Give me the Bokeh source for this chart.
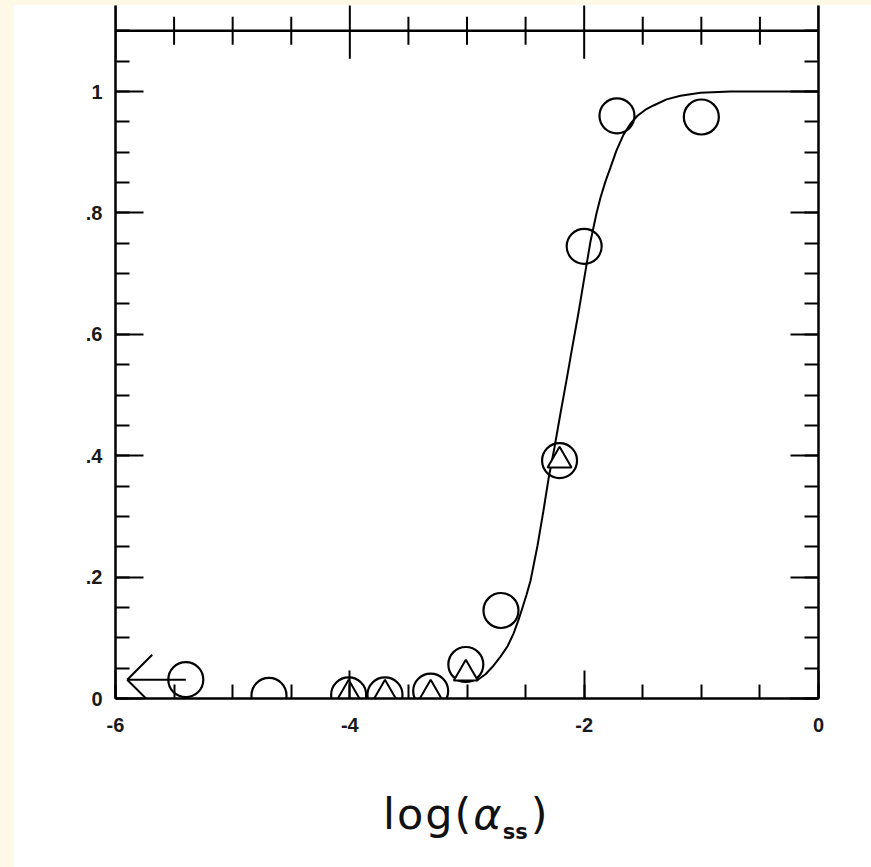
from bokeh.plotting import figure
from bokeh.models import Range1d, LinearAxis, FixedTicker, Span, Spacer, Div
from bokeh.layouts import row, column
from bokeh.embed import file_html
from bokeh.resources import INLINE

# ---- data: fraction vs log(alpha_ss) ----
circle_x = [-5.40, -4.69, -4.01, -3.70, -3.31, -3.01, -2.71, -2.21, -2.00, -1.72, -1.00]
circle_y = [0.031, 0.005, 0.006, 0.006, 0.012, 0.056, 0.145, 0.392, 0.745, 0.960, 0.958]

triangle_x = [-4.01, -3.70, -3.31, -3.01, -2.21]
triangle_y = [0.008, 0.008, 0.008, 0.041, 0.392]

# left-pointing limit arrow on the lowest point
limit_from_x = -5.40
limit_to_x = -5.90
limit_y = 0.031

# fitted curve
fit_x = [-2.913, -2.842, -2.774, -2.714, -2.654, -2.603, -2.561, -2.526, -2.492,
         -2.458, -2.398, -2.347, -2.304, -2.253, -2.202, -2.151, -2.100, -2.048,
         -1.997, -1.946, -1.895, -1.861, -1.818, -1.775, -1.724, -1.664, -1.605,
         -1.545, -1.477, -1.408, -1.297, -1.178, -1.007, -0.751, 0.000]
fit_y = [0.030, 0.040, 0.054, 0.069, 0.086, 0.107, 0.129, 0.150, 0.171,
         0.194, 0.252, 0.310, 0.362, 0.414, 0.470, 0.524, 0.580, 0.636,
         0.695, 0.753, 0.799, 0.825, 0.852, 0.875, 0.903, 0.929, 0.947,
         0.960, 0.970, 0.977, 0.987, 0.993, 0.998, 1.000, 1.000]

x_ticks = [-6, -4, -2, 0]
x_tick_labels = ["-6", "-4", "-2", "0"]
x_minor_ticks = [-6, -5.5, -5, -4.5, -4, -3.5, -3, -2.5, -2, -1.5, -1, -0.5, 0]

y_ticks = [0, 0.2, 0.4, 0.6, 0.8, 1.0]
y_tick_labels = ["0", ".2", ".4", ".6", ".8", "1"]
y_minor_ticks = [0, 0.05, 0.1, 0.15, 0.2, 0.25, 0.3, 0.35, 0.4, 0.45, 0.5, 0.55,
                 0.6, 0.65, 0.7, 0.75, 0.8, 0.85, 0.9, 0.95, 1.0, 1.05, 1.1]

upper_axis_y = 1.1

# ---- geometry ----
CREAM = "#FEF9E6"
W, H = 857, 745
ML, MR, MB = 101, 53, 52
X0, X1 = -6.0, 0.0
Y0, Y1 = 0.0, 1.1417
FRAME_W = W - ML - MR
FRAME_H = H - MB
PX_X = FRAME_W / (X1 - X0)
PX_Y = FRAME_H / (Y1 - Y0)

p = figure(width=W, height=H, x_range=Range1d(X0, X1), y_range=Range1d(Y0, Y1),
           output_backend="svg", toolbar_location=None,
           x_axis_location=None, y_axis_location=None,
           min_border_left=ML, min_border_right=MR, min_border_bottom=MB,
           min_border_top=0)
p.outline_line_color = None
p.grid.grid_line_color = None
p.background_fill_color = "white"
p.border_fill_color = "white"


def style_axis(ax, labels=True, standoff=14):
    ax.axis_line_width = 2.5
    ax.axis_line_color = "black"
    ax.major_tick_in = 28
    ax.major_tick_out = 0
    ax.minor_tick_in = 14
    ax.minor_tick_out = 0
    ax.major_tick_line_width = 2
    ax.minor_tick_line_width = 2
    ax.major_tick_line_color = "black"
    ax.minor_tick_line_color = "black"
    ax.major_label_standoff = standoff
    ax.major_label_text_font = "Liberation Sans"
    ax.major_label_text_font_size = "20px"
    ax.major_label_text_font_style = "bold"
    ax.major_label_text_color = "#1a1a1a"
    if not labels:
        ax.major_label_text_alpha = 0.0


xb = LinearAxis(ticker=FixedTicker(ticks=x_ticks, minor_ticks=x_minor_ticks),
                major_label_overrides=dict(zip(x_ticks, x_tick_labels)))
style_axis(xb, standoff=19)
p.add_layout(xb, "below")

yl = LinearAxis(ticker=FixedTicker(ticks=y_ticks, minor_ticks=y_minor_ticks),
                major_label_overrides=dict(zip(y_ticks, y_tick_labels)))
style_axis(yl, standoff=13)
p.add_layout(yl, "left")

yr = LinearAxis(ticker=FixedTicker(ticks=y_ticks, minor_ticks=y_minor_ticks))
style_axis(yr, labels=False)
p.add_layout(yr, "right")

# horizontal axis line across the top with its crossing ticks
p.add_layout(Span(location=upper_axis_y, dimension="width",
                  line_color="black", line_width=2.5))
minor_top = [t for t in x_minor_ticks if t not in x_ticks]
half_minor = 14 / PX_Y
p.segment(x0=minor_top, x1=minor_top,
          y0=[upper_axis_y - half_minor] * len(minor_top),
          y1=[upper_axis_y + half_minor] * len(minor_top),
          line_color="black", line_width=2)
p.segment(x0=x_ticks, x1=x_ticks,
          y0=[upper_axis_y - 28 / PX_Y] * len(x_ticks),
          y1=[Y1 + 0.05] * len(x_ticks),
          line_color="black", line_width=2)

# fitted curve
p.line(fit_x, fit_y, line_color="black", line_width=2)

# measured points
p.scatter(circle_x, circle_y, marker="circle", size=35, fill_color=None,
          line_color="black", line_width=2.2)
p.scatter(triangle_x, triangle_y, marker="triangle", size=24, fill_color="white",
          line_color="black", line_width=2)

# limit arrow
head_dx = 25 / PX_X
head_dy = 25 / PX_Y
p.segment(x0=[limit_from_x, limit_to_x, limit_to_x],
          y0=[limit_y, limit_y, limit_y],
          x1=[limit_to_x, limit_to_x + head_dx, limit_to_x + head_dx],
          y1=[limit_y, limit_y + head_dy, limit_y - head_dy],
          line_color="black", line_width=2)

# x-axis title: log(alpha_ss)
title_html = (
    '<div style="margin-top:38px; margin-left:364px; white-space:nowrap; '
    'font-family:\'DejaVu Sans\'; font-size:43px; line-height:43px; '
    'letter-spacing:2px; color:#111;">'
    'log(<span style="font-style:italic; letter-spacing:1px;">\u03b1</span>'
    '<span style="font-size:21px; font-weight:bold; letter-spacing:0px; '
    'position:relative; top:10px;">ss</span>'
    '<span style="margin-left:3px;">)</span>'
    '</div>'
)
title_div = Div(text=title_html, width=W, height=867 - 5 - H)

left_strip = Spacer(width=14, height=867, styles={"background-color": CREAM})
top_strip = Spacer(width=W, height=5, styles={"background-color": CREAM})
layout = row(left_strip, column(top_strip, p, title_div))

open("out.html", "w").write(file_html(layout, INLINE))
